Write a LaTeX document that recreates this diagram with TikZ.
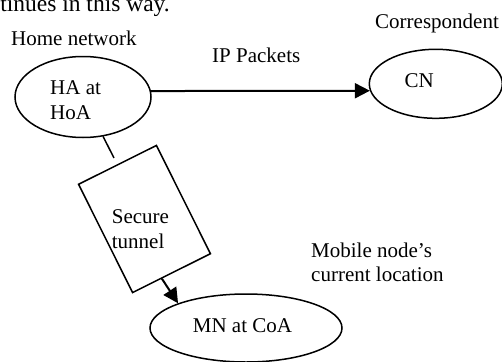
\documentclass[tikz,border=0pt]{standalone}
\usepackage{fontspec}
\setmainfont{Liberation Serif}
\usetikzlibrary{arrows.meta,calc,shapes.geometric}

\tikzset{
  ell/.style={ellipse, draw, line width=1.5pt, inner sep=0pt},
  % base west of a multi-line label sits on its last line
  lbl/.style={inner sep=0pt, anchor=base west, align=left,
              font=\fontsize{21}{24.5}\selectfont},
  link/.style={line width=1.5pt},
  flow/.style={line width=2pt, -{Triangle[length=15pt,width=15pt]}}
}

\begin{document}
\begin{tikzpicture}[x=1pt, y=-1pt]
  \useasboundingbox (0,0) rectangle (502,361);
  \clip (0,0) rectangle (502,361);

  % running text of the surrounding page
  \node[inner sep=0pt, anchor=base east, font=\fontsize{23.5}{28}\selectfont]
    (runin) at (170,12) {continues in this way.};

  % hosts
  \node[ell, minimum width=136pt, minimum height=81pt] (ha) at (83,97) {};
  \node[ell, minimum width=133pt, minimum height=69pt] (cn) at (435.8,83.8) {};
  \node[ell, minimum width=192pt, minimum height=68pt] (mn) at (246,328) {};

  % tunnel box
  \node[draw, line width=1.5pt, rotate=26.5, minimum width=87pt,
        minimum height=121pt, inner sep=0pt] (tunnel) at (144.5,219) {};

  % labels
  \node[lbl] (homelbl) at (11,45.7) {Home network};
  \node[lbl] (corrlbl) at (375,28.5) {Correspondent};
  \node[lbl] (iplbl) at (212,62) {IP Packets};
  \node[lbl] (halbl) at (50,119) {HA at\\HoA};
  \node[lbl] (cnlbl) at (404.3,87.2) {CN};
  \node[lbl] (tunlbl) at (111.7,248.3) {Secure\\tunnel};
  \node[lbl] (moblbl) at (311,281.7) {Mobile node’s\\current location};
  \node[lbl] (mnlbl) at (192.7,332.7) {MN at CoA};

  % connectors
  \draw[flow] (ha.5.4) -- (cn.186);
  \draw[link, shorten >=7pt] (ha) -- (tunnel.north);
  \draw[flow] ($(tunnel.south)!0.25!(tunnel.south west)$) -- (mn.160);
\end{tikzpicture}
\end{document}
